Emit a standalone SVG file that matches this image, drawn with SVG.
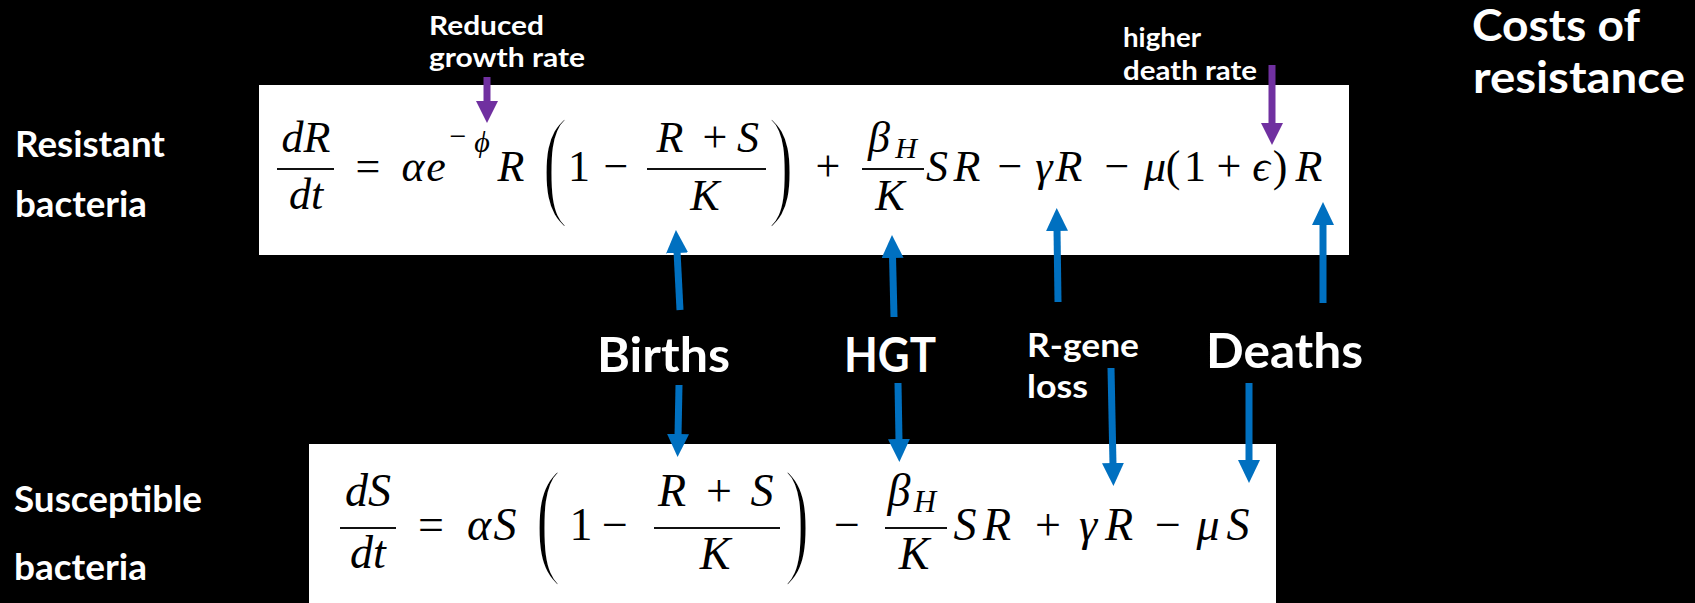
<svg xmlns="http://www.w3.org/2000/svg" width="1695" height="603" viewBox="0 0 1695 603">
<style>
.lbl{font-family:Lato,"Open Sans","Liberation Sans",sans-serif;font-weight:700;fill:#fff}
.m{font-family:"Liberation Serif","DejaVu Serif",serif;fill:#000;text-anchor:middle}
.i{font-style:italic}
.t{font-size:44px}
.b{font-size:46px}
.s{font-size:30px}
.par{font-size:80px;stroke:#fff;stroke-width:2.6px}
.bar{stroke:#111;stroke-width:2}
.box{fill:#fff}
.pu{stroke:#7030A0;stroke-width:7;fill:none}
.bl{stroke:#0070C0;stroke-width:7;fill:none}
</style>
<defs>
<marker id="hp" viewBox="0 0 22 22" markerUnits="userSpaceOnUse" markerWidth="22" markerHeight="22" refX="2" refY="11" orient="auto"><path d="M0,0 L22,11 L0,22 z" fill="#7030A0"/></marker>
<marker id="hb" viewBox="0 0 23 22" markerUnits="userSpaceOnUse" markerWidth="23" markerHeight="22" refX="2" refY="11" orient="auto"><path d="M0,0 L23,11 L0,22 z" fill="#0070C0"/></marker>
</defs>
<rect width="1695" height="603" fill="#000"/>

<g id="eq-resistant">
<rect class="box" x="259" y="85" width="1090" height="170"/>
<text class="m i t" x="306" y="152">dR</text>
<line class="bar" x1="277" y1="169" x2="334" y2="169"/>
<text class="m i t" x="306" y="209">dt</text>
<text class="m t" x="368" y="181">=</text>
<text class="m i t" x="413" y="181">α</text>
<text class="m i t" x="436" y="181">e</text>
<text class="m s" x="458" y="146">−</text>
<text class="m i s" x="482" y="152">ϕ</text>
<text class="m i t" x="511" y="181">R</text>
<text class="m par" transform="translate(555,203) scale(1,1.55)">(</text>
<text class="m t" x="579" y="181">1</text>
<text class="m t" x="616" y="181">−</text>
<text class="m i t" x="670" y="152">R</text>
<text class="m t" x="715" y="152">+</text>
<text class="m i t" x="748" y="152">S</text>
<line class="bar" x1="647" y1="169" x2="766" y2="169"/>
<text class="m i t" x="705" y="210">K</text>
<text class="m par" transform="translate(781,203) scale(1,1.55)">)</text>
<text class="m t" x="828" y="181">+</text>
<text class="m i t" x="879" y="152">β</text>
<text class="m i s" x="906" y="158">H</text>
<line class="bar" x1="862" y1="169" x2="924" y2="169"/>
<text class="m i t" x="890" y="210">K</text>
<text class="m i t" x="937" y="181">S</text>
<text class="m i t" x="967" y="181">R</text>
<text class="m t" x="1010" y="181">−</text>
<text class="m i t" x="1044" y="181">γ</text>
<text class="m i t" x="1069" y="181">R</text>
<text class="m t" x="1117" y="181">−</text>
<text class="m i t" x="1155" y="181">μ</text>
<text class="m t" x="1173" y="181">(</text>
<text class="m t" x="1195" y="181">1</text>
<text class="m t" x="1229" y="181">+</text>
<text class="m i t" x="1261" y="181">ϵ</text>
<text class="m t" x="1280" y="181">)</text>
<text class="m i t" x="1309" y="181">R</text>
</g>

<g id="eq-susceptible">
<rect class="box" x="309" y="444" width="967" height="159"/>
<text class="m i b" x="368" y="506">dS</text>
<line class="bar" x1="340" y1="528" x2="396" y2="528"/>
<text class="m i b" x="368" y="568">dt</text>
<text class="m b" x="431" y="540">=</text>
<text class="m i b" x="479" y="540">α</text>
<text class="m i b" x="505" y="540">S</text>
<text class="m par" transform="translate(548,560) scale(1,1.63)">(</text>
<text class="m b" x="581" y="540">1</text>
<text class="m b" x="615" y="540">−</text>
<text class="m i b" x="672" y="506">R</text>
<text class="m b" x="719" y="506">+</text>
<text class="m i b" x="762" y="506">S</text>
<line class="bar" x1="654" y1="528" x2="780" y2="528"/>
<text class="m i b" x="715" y="569">K</text>
<text class="m par" transform="translate(797,560) scale(1,1.63)">)</text>
<text class="m b" x="847" y="540">−</text>
<text class="m i b" x="899" y="506">β</text>
<text class="m i" font-size="31" x="925" y="512">H</text>
<line class="bar" x1="885" y1="528" x2="947" y2="528"/>
<text class="m i b" x="914" y="569">K</text>
<text class="m i b" x="965" y="540">S</text>
<text class="m i b" x="997" y="540">R</text>
<text class="m b" x="1048" y="540">+</text>
<text class="m i b" x="1088" y="540">γ</text>
<text class="m i b" x="1119" y="540">R</text>
<text class="m b" x="1168" y="540">−</text>
<text class="m i b" x="1208" y="540">μ</text>
<text class="m i b" x="1238" y="540">S</text>
</g>

<g id="label-resistant">
<text class="lbl" font-size="36" x="15" y="157" textLength="150" lengthAdjust="spacingAndGlyphs">Resistant</text>
<text class="lbl" font-size="36" x="15" y="217" textLength="132" lengthAdjust="spacingAndGlyphs">bacteria</text>
</g>
<g id="label-susceptible">
<text class="lbl" font-size="36" x="14" y="512" textLength="188" lengthAdjust="spacingAndGlyphs">Susceptible</text>
<text class="lbl" font-size="36" x="14" y="580" textLength="133" lengthAdjust="spacingAndGlyphs">bacteria</text>
</g>
<g id="label-reduced-growth">
<text class="lbl" font-size="26" x="429" y="35" textLength="115" lengthAdjust="spacingAndGlyphs">Reduced</text>
<text class="lbl" font-size="26" x="429" y="67" textLength="156" lengthAdjust="spacingAndGlyphs">growth rate</text>
</g>
<g id="label-higher-death">
<text class="lbl" font-size="26" x="1123" y="47" textLength="78" lengthAdjust="spacingAndGlyphs">higher</text>
<text class="lbl" font-size="26" x="1123" y="80" textLength="134" lengthAdjust="spacingAndGlyphs">death rate</text>
</g>
<g id="label-costs">
<text class="lbl" font-size="43" x="1472" y="41" textLength="168" lengthAdjust="spacingAndGlyphs">Costs of</text>
<text class="lbl" font-size="43" x="1473" y="93" textLength="212" lengthAdjust="spacingAndGlyphs">resistance</text>
</g>
<g id="label-births">
<text class="lbl" font-size="48" x="597" y="372" textLength="133" lengthAdjust="spacingAndGlyphs">Births</text>
</g>
<g id="label-hgt">
<text class="lbl" font-size="48" x="844" y="372" textLength="92" lengthAdjust="spacingAndGlyphs">HGT</text>
</g>
<g id="label-rgene">
<text class="lbl" font-size="33" x="1027" y="357" textLength="112" lengthAdjust="spacingAndGlyphs">R-gene</text>
<text class="lbl" font-size="33" x="1027" y="398" textLength="61" lengthAdjust="spacingAndGlyphs">loss</text>
</g>
<g id="label-deaths">
<text class="lbl" font-size="48" x="1206" y="368" textLength="157" lengthAdjust="spacingAndGlyphs">Deaths</text>
</g>

<g id="connectors">
<line class="pu" x1="487" y1="77" x2="487" y2="103" marker-end="url(#hp)"/>
<line class="pu" x1="1272" y1="65" x2="1272" y2="125" marker-end="url(#hp)"/>
<line class="bl" x1="680" y1="310" x2="677" y2="251" marker-end="url(#hb)"/>
<line class="bl" x1="894" y1="317" x2="892.5" y2="256" marker-end="url(#hb)"/>
<line class="bl" x1="1058" y1="302" x2="1057" y2="229" marker-end="url(#hb)"/>
<line class="bl" x1="1323" y1="303" x2="1323" y2="223" marker-end="url(#hb)"/>
<line class="bl" x1="679" y1="385" x2="678" y2="436" marker-end="url(#hb)"/>
<line class="bl" x1="898" y1="383" x2="899" y2="441" marker-end="url(#hb)"/>
<line class="bl" x1="1111" y1="368" x2="1113" y2="465" marker-end="url(#hb)"/>
<line class="bl" x1="1249" y1="383" x2="1249" y2="462" marker-end="url(#hb)"/>
</g>
</svg>
